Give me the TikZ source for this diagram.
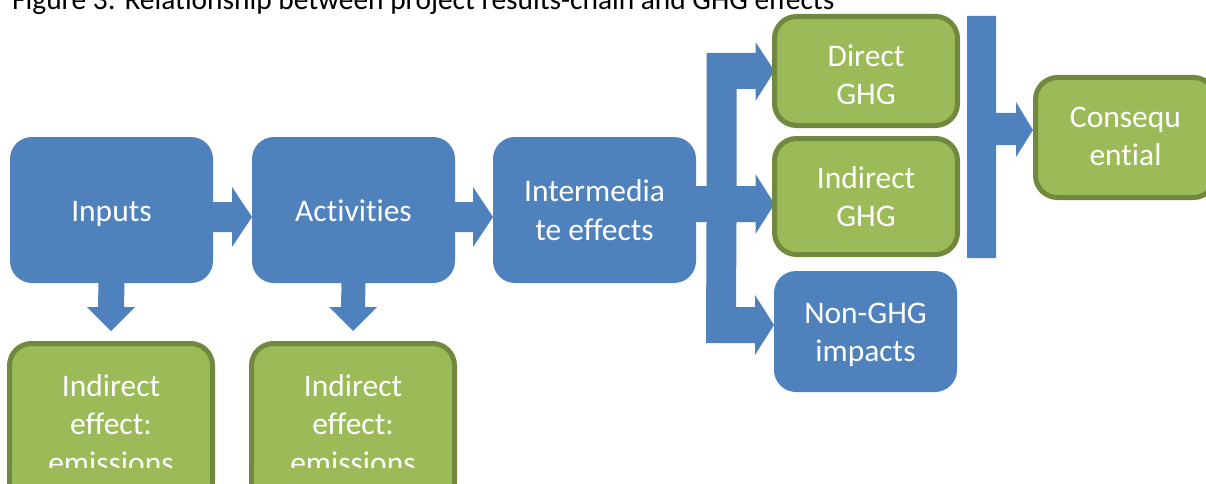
\documentclass[tikz,border=0pt]{standalone}
\usepackage{fontspec}
\setmainfont[Ligatures=NoCommon]{Carlito}
\usetikzlibrary{calc,backgrounds}
\definecolor{bluec}{HTML}{4F81BD}
\definecolor{greenc}{HTML}{9BBB59}
\definecolor{greend}{HTML}{71893F}
\newcommand\sx{\rule[-0.25em]{0pt}{1.2em}}
\newcommand\sxh[1]{\rule[-0.25em]{0pt}{\dimexpr1.2em+#1\relax}}
\newcommand\sxd[1]{\rule[\dimexpr-0.25em-#1\relax]{0pt}{\dimexpr1.2em+#1\relax}}
\begin{document}
\begin{tikzpicture}[x=1pt,y=-1pt,
  box/.style={rectangle, rounded corners=22pt, inner sep=0pt, outer sep=0pt, align=center, text=white,
    font=\fontsize{31.5}{38.5}\selectfont},
  bluebox/.style={box, fill=bluec},
  greenbox/.style={box, fill=greenc, draw=greend, line width=5pt},
  arr/.style={fill=bluec, draw=none}]
\useasboundingbox (0,0) rectangle (1206,484);

% title
\node[anchor=base west, inner sep=0pt, font=\fontsize{29.4}{34}\selectfont] (title) at (12,10)
  {Figure 3: Relationship between project results-chain and GHG effects};

% blue boxes
\node[bluebox, minimum width=203pt, minimum height=146pt] (in)  at (111.5,210) {\sx Inputs};
\node[bluebox, minimum width=203pt, minimum height=146pt] (act) at (353.5,210) {\sx Activities};
\node[bluebox, minimum width=203pt, minimum height=146pt] (int) at (594.5,210) {\sx Intermedia\\\sx te effects};
\node[bluebox, minimum width=183pt, minimum height=121pt] (ng)  at (865.5,331.5) {\sx Non-GHG\\\sx impacts};

% green boxes
\node[greenbox, minimum width=183pt, minimum height=109pt] (dg) at (866,71) {\sxh{7pt}Direct\\\sx GHG};
\node[greenbox, minimum width=183pt, minimum height=116pt] (ig) at (866,196.5) {\sx Indirect\\\sx GHG};
\node[greenbox, minimum width=180pt, minimum height=120pt] (cq) at (1125.5,137.5) {\sx Consequ\\\sxd{4pt}ential};
\node[greenbox, minimum width=203pt, minimum height=160pt] (ie1) at (111,423.5) {\sx Indirect\\\sx effect:\\\sx emissions};
\node[greenbox, minimum width=203pt, minimum height=160pt] (ie2) at (353,423.5) {\sx Indirect\\\sx effect:\\\sx emissions};

% text clipped at the lower edge of the bottom boxes
\coordinate (ca1) at ($(ie1.south west)+(2.5,0)$);
\coordinate (cb1) at ($(ie1.north east)+(-2.5,124.5)$);
\coordinate (ca2) at ($(ie2.south west)+(2.5,0)$);
\coordinate (cb2) at ($(ie2.north east)+(-2.5,124.5)$);
\fill[greenc] (ca1) rectangle (cb1);
\fill[greenc] (ca2) rectangle (cb2);

\begin{scope}[on background layer]
% right arrows
\fill[arr] ($(in.east)+(-1,-8)$) -- ($(act.west)+(-20,-8)$) -- ($(act.west)+(-20,-23)$) -- ($(act.west)+(0,7)$)
  -- ($(act.west)+(-20,37)$) -- ($(act.west)+(-20,22)$) -- ($(in.east)+(-1,22)$) -- cycle;
\fill[arr] ($(act.east)+(-1,-8)$) -- ($(int.west)+(-20,-8)$) -- ($(int.west)+(-20,-23)$) -- ($(int.west)+(0,7)$)
  -- ($(int.west)+(-20,37)$) -- ($(int.west)+(-20,22)$) -- ($(act.east)+(-1,22)$) -- cycle;

% down arrows
\coordinate (dt1) at ($(ie1.north)+(0,-12.5)$);
\coordinate (dt2) at ($(ie2.north)+(0,-12.5)$);
\fill[arr] ($(in.south)+(-13,-1)$) -- ($(dt1)+(-13,-24)$) -- ($(dt1)+(-24,-24)$) -- (dt1)
  -- ($(dt1)+(24,-24)$) -- ($(dt1)+(13,-24)$) -- ($(in.south)+(13,-1)$) -- cycle;
\fill[arr] ($(act.south)+(-12,-1)$) -- ($(dt2)+(-12,-24)$) -- ($(dt2)+(-24,-24)$) -- (dt2)
  -- ($(dt2)+(24,-24)$) -- ($(dt2)+(12,-24)$) -- ($(act.south)+(12,-1)$) -- cycle;

% branching arrow
\coordinate (S)  at ($(int.east)+(-1,-6)$);
\coordinate (T1) at (dg.west);
\coordinate (T2) at ($(ig.west)+(0,7.5)$);
\coordinate (T3) at ($(ng.west |- dg.west)+(0,254)$);
\fill[arr] ($(S)+(0,-18)$) -- ($(T2)+(-68,-18)$) -- ($(T1)+(-68,-18)$) -- ($(T1)+(-19,-18)$)
  -- ($(T1)+(-19,-29)$) -- (T1) -- ($(T1)+(-19,30)$) -- ($(T1)+(-19,18)$) -- ($(T1)+(-38,18)$)
  -- ($(T2)+(-38,-18)$) -- ($(T2)+(-19,-18)$) -- ($(T2)+(-19,-30)$) -- (T2) -- ($(T2)+(-19,30)$)
  -- ($(T2)+(-19,18)$) -- ($(T2)+(-38,18)$) -- ($(T3)+(-38,-18)$) -- ($(T3)+(-19,-18)$)
  -- ($(T3)+(-19,-30)$) -- (T3) -- ($(T3)+(-19,30)$) -- ($(T3)+(-19,18)$) -- ($(T3)+(-68,18)$)
  -- ($(T2)+(-68,18)$) -- ($(S)+(0,18)$) -- cycle;

% bar and arrow to consequential
\coordinate (bt) at ($(dg.north east)+(9.5,-0.5)$);
\coordinate (bb) at ($(ig.south east)+(9.5,3.5)$);
\coordinate (ct) at ($(cq.west)+(-2.5,-7.5)$);
\fill[arr] (bt) -- ($(bt)+(29,0)$) -- ($(ct)+(-37,-17)$) -- ($(ct)+(-17,-17)$) -- ($(ct)+(-17,-28)$)
  -- (ct) -- ($(ct)+(-17,27)$) -- ($(ct)+(-17,15)$) -- ($(ct)+(-37,15)$) -- ($(bb)+(29,0)$)
  -- (bb) -- cycle;
\end{scope}
\end{tikzpicture}
\end{document}
